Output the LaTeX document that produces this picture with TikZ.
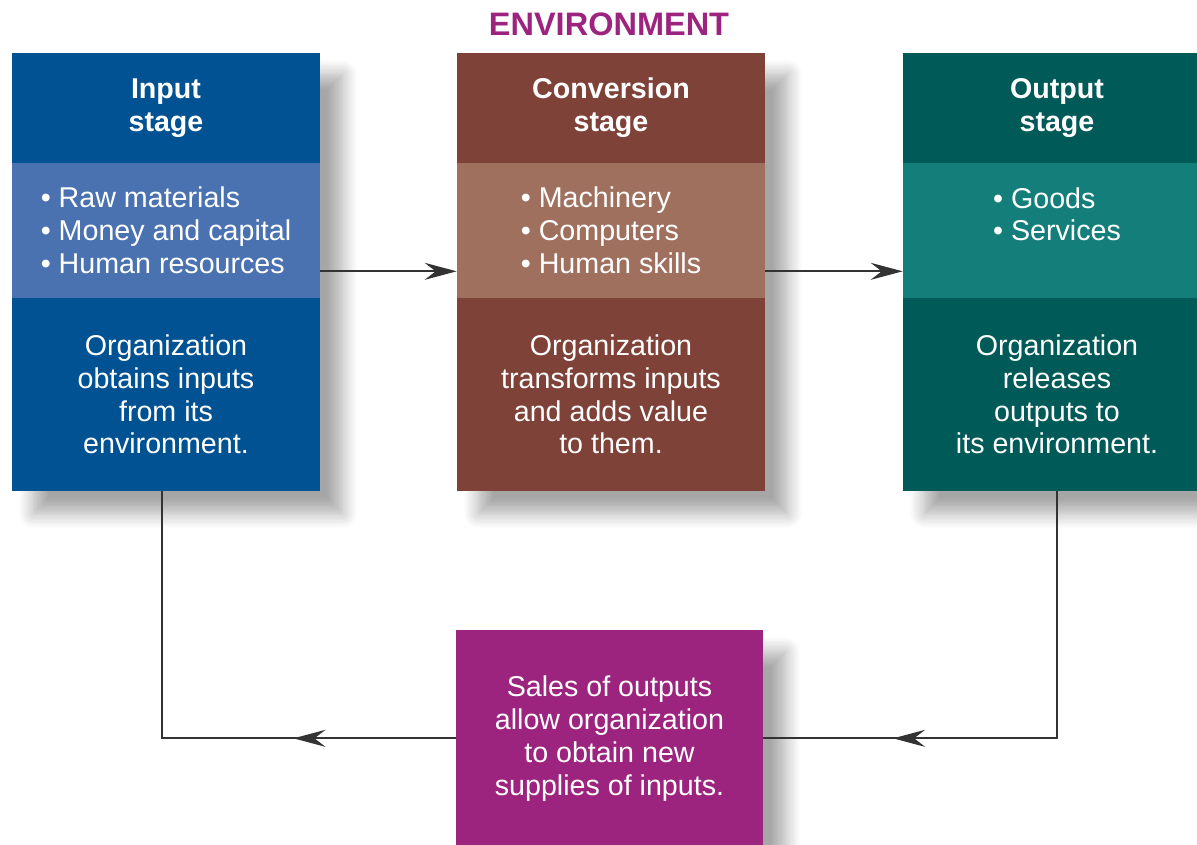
\documentclass[tikz,border=0pt]{standalone}
\usepackage{fontspec}
\setmainfont{Liberation Sans}
\usepackage{xcolor}
\usepackage{tikz}
\usetikzlibrary{positioning,calc}
\usetikzlibrary{arrows.meta}
\usetikzlibrary{decorations.markings}
\usetikzlibrary{shadows.blur}
\definecolor{inputdark}{RGB}{0,82,147}
\definecolor{inputlight}{RGB}{74,114,176}
\definecolor{convdark}{RGB}{127,66,56}
\definecolor{convlight}{RGB}{160,112,95}
\definecolor{outdark}{RGB}{0,90,87}
\definecolor{outlight}{RGB}{20,127,122}
\definecolor{salesmag}{RGB}{156,36,126}
\colorlet{flowgray}{black!80}
\pgfdeclarelayer{background}
\pgfsetlayers{background,main}

\begin{document}
\begin{tikzpicture}[
x=0.02cm, y=-0.02cm,
StageHead/.style={minimum width=6.16cm, minimum height=2.2cm, inner sep=0pt, text=white, align=center, font=\bfseries\fontsize{16.3}{18.7}\selectfont},
StageList/.style={minimum width=6.16cm, minimum height=2.7cm, inner sep=0pt, text=white, align=left, font=\fontsize{16.3}{18.7}\selectfont},
StageBody/.style={minimum width=6.16cm, minimum height=3.86cm, inner sep=0pt, text=white, align=center, font=\fontsize{16.3}{18.7}\selectfont},
SalesBox/.style={fill=salesmag, minimum width=6.14cm, minimum height=4.32cm, inner sep=0pt, text=white, align=center, font=\fontsize{16.3}{18.7}\selectfont},
BoxShadow/.style={fill=white, blur shadow={shadow xshift=0.44cm, shadow yshift=-0.44cm, shadow blur radius=0.3cm, shadow blur steps=12, shadow opacity=35}},
Flow/.style={draw=flowgray, line width=1.1pt},
FlowTip/.style={-{Stealth[length=6.4mm, width=3.4mm, inset=2.2mm]}},
EnvTitle/.style={text=salesmag, font=\bfseries\fontsize{18.5}{20}\selectfont}
]
\useasboundingbox (0,0) rectangle (1197,845);

\node[EnvTitle] (env) at (609,24) {ENVIRONMENT};

% Input stage
\node[StageHead, fill=inputdark] (inhead) at (166,108) {Input\\stage};
\node[StageList, fill=inputlight, below=-0.4pt of inhead] (inlist) {• Raw materials\\• Money and capital\\• Human resources};
\node[StageBody, fill=inputdark, below=-0.4pt of inlist] (inbody) {Organization\\obtains inputs\\from its\\environment.};

% Conversion stage
\node[StageHead, fill=convdark] (convhead) at (611,108) {Conversion\\stage};
\node[StageList, fill=convlight, below=-0.4pt of convhead] (convlist) {• Machinery\\• Computers\\• Human skills};
\node[StageBody, fill=convdark, below=-0.4pt of convlist] (convbody) {Organization\\transforms inputs\\and adds value\\to them.};

% Output stage
\node[StageHead, fill=outdark] (outhead) at (1057,108) {Output\\stage};
\node[StageList, fill=outlight, below=-0.4pt of outhead] (outlist) {• Goods\\• Services\\\mbox{}};
\node[StageBody, fill=outdark, below=-0.4pt of outlist] (outbody) {Organization\\releases\\outputs to\\its environment.};

% Sales
\node[SalesBox, anchor=north] (sales) at (609.5,630) {Sales of outputs\\allow organization\\to obtain new\\supplies of inputs.};

\begin{pgfonlayer}{background}
\foreach \col in {in,conv,out}
  \path[BoxShadow] (\col head.north west) rectangle (\col body.south east);
\path[BoxShadow] (sales.north west) rectangle (sales.south east);
\end{pgfonlayer}

\draw[Flow, FlowTip] ($(inlist.south east)+(0,-27)$) -- ($(convlist.south west)+(0,-27)$);
\draw[Flow, FlowTip] ($(convlist.south east)+(0,-27)$) -- ($(outlist.south west)+(0,-27)$);

\draw[Flow, postaction={decorate}, decoration={markings, mark=at position 0.76 with {\arrow{Stealth[length=6.4mm, width=3.4mm, inset=2.2mm]}}}] (outbody.south) |- (sales.east);
\draw[Flow, postaction={decorate}, decoration={markings, mark=at position 0.30 with {\arrow{Stealth[length=6.4mm, width=3.4mm, inset=2.2mm]}}}] (sales.west) -| ($(inbody.south)+(-4,0)$);

\end{tikzpicture}
\end{document}
